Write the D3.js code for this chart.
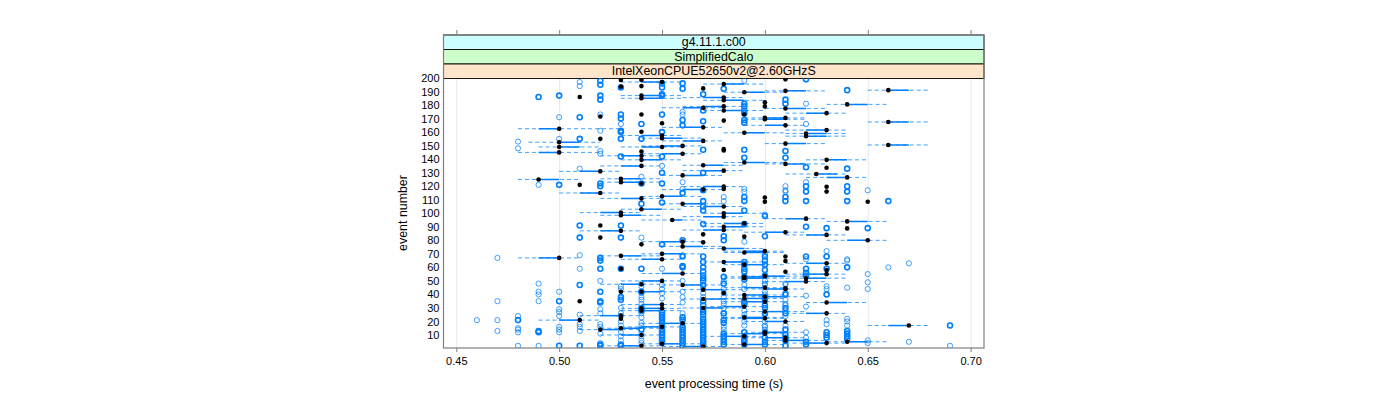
<!DOCTYPE html>
<html><head><meta charset="utf-8">
<script src="https://cdn.jsdelivr.net/npm/d3@7/dist/d3.min.js"></script>
<style>html,body{margin:0;padding:0;background:#fff}svg{display:block;font-family:"Liberation Sans",Arial,sans-serif}</style>
</head><body><svg id="c" width="1400" height="400"></svg>
<script>
const stripLabels=["g4.11.1.c00","SimplifiedCalo","IntelXeonCPUE52650v2@2.60GHzS"];
const stripColors=["#ccffff","#ccffcc","#ffe5cc"];
const xTicks=[0.45,0.50,0.55,0.60,0.65,0.70];
const yTicks=[10,20,30,40,50,60,70,80,90,100,110,120,130,140,150,160,170,180,190,200];
const xTitle="event processing time (s)";
const yTitle="event number";
// [event, median, mean, mean-sd, mean+sd]
const summaryRows=[
[197,.55,.54,.53,.56],[187,.54,.55,.53,.56],[185,.54,.55,.53,.56],[195.5,.58,.59,.57,.60],[189.5,.59,.60,.58,.61],
[185.5,.58,.57,.56,.59],[183.5,.58,.59,.57,.60],[179,.58,.57,.56,.59],[176,.58,.59,.57,.60],[178,.57,.56,.55,.58],
[163.5,.57,.56,.55,.58],[190.5,.61,.62,.60,.63],[191,.66,.67,.65,.68],[180.5,.64,.65,.63,.66],[174,.63,.62,.61,.64],
[177.5,.61,.62,.60,.63],[170.5,.61,.60,.59,.62],[169.5,.60,.61,.59,.62],[165,.61,.60,.59,.62],[161.5,.63,.62,.61,.64],
[159,.62,.63,.61,.64],[157,.62,.63,.61,.64],[159.5,.59,.60,.58,.61],[151.5,.61,.62,.60,.63],[167.5,.66,.67,.65,.68],
[150.5,.66,.67,.65,.68],[162.5,.50,.49,.48,.53],[152.5,.50,.51,.485,.52],[149,.50,.51,.49,.52],[145,.50,.49,.48,.52],
[125,.49,.50,.48,.51],[67,.50,.49,.48,.51],[21,.51,.50,.49,.52],[131,.52,.51,.50,.53],[115,.52,.51,.50,.53],
[149,.55,.54,.53,.56],[149.8,.56,.55,.54,.57],[144,.56,.55,.54,.57],[142.5,.54,.53,.52,.55],[139.5,.54,.55,.53,.56],
[135,.54,.53,.52,.55],[135.5,.57,.58,.56,.59],[131.5,.58,.57,.56,.59],[128,.56,.57,.55,.58],[125.5,.53,.54,.52,.55],
[123,.53,.54,.52,.55],[137.5,.59,.60,.58,.61],[136.5,.61,.62,.60,.63],[139.5,.63,.64,.62,.65],[129,.625,.635,.61,.64],
[126.5,.64,.63,.62,.65],[112.5,.55,.56,.54,.57],[111,.54,.53,.52,.55],[103,.54,.55,.53,.56],[119.7,.58,.57,.56,.59],
[117.5,.57,.56,.55,.58],[107,.56,.57,.55,.58],[105,.58,.57,.56,.59],[100.5,.53,.52,.51,.54],[98.5,.53,.54,.52,.55],
[100,.58,.59,.57,.60],[97.5,.58,.57,.56,.59],[95,.555,.56,.54,.57],[87,.53,.52,.51,.54],[96,.62,.61,.60,.63],
[94,.64,.65,.63,.66],[86,.61,.60,.59,.62],[84,.63,.62,.61,.64],[80,.65,.64,.63,.66],[92.5,.59,.58,.57,.60],
[90,.58,.59,.57,.60],[87.6,.58,.57,.56,.59],[79,.56,.55,.54,.57],[75.5,.56,.57,.55,.58],[74,.58,.59,.57,.60],
[71,.59,.60,.58,.61],[72,.60,.59,.58,.61],[68.5,.53,.54,.52,.55],[70,.55,.56,.54,.57],[66,.55,.54,.53,.56],
[55.5,.56,.55,.54,.57],[64,.58,.59,.57,.60],[62,.59,.60,.58,.61],[53.5,.60,.61,.59,.62],[53,.59,.60,.58,.61],
[63,.63,.62,.61,.64],[55,.63,.62,.61,.64],[52,.62,.63,.61,.64],[49.5,.62,.61,.60,.63],[50,.55,.54,.53,.56],
[47.5,.54,.53,.52,.55],[47,.56,.57,.55,.58],[43.5,.57,.58,.56,.59],[52,.59,.60,.58,.61],[45,.60,.59,.58,.61],
[44,.61,.60,.59,.62],[42,.54,.55,.53,.56],[39.6,.59,.60,.58,.61],[38.3,.60,.61,.59,.62],[37,.59,.60,.58,.61],
[34.6,.60,.59,.58,.61],[36.6,.57,.58,.56,.59],[30,.57,.58,.56,.59],[31,.59,.58,.57,.60],[27.3,.60,.61,.59,.62],
[34,.63,.64,.62,.65],[26,.63,.62,.61,.64],[23,.59,.60,.58,.61],[22.3,.60,.59,.58,.61],[20,.61,.60,.59,.62],
[32.5,.55,.54,.53,.56],[29.7,.55,.54,.53,.56],[28,.54,.55,.53,.56],[24.3,.53,.52,.51,.54],[18.6,.56,.55,.54,.57],
[17,.67,.66,.65,.68],[16,.55,.54,.53,.56],[15,.53,.54,.52,.55],[14,.52,.53,.51,.54],[12,.60,.61,.59,.62],
[11,.60,.59,.58,.61],[10,.54,.53,.52,.55],[9,.59,.58,.57,.60],[8,.61,.60,.59,.62],[6,.61,.62,.60,.63],
[5,.64,.65,.63,.66],[4,.63,.62,.61,.64],[3.5,.55,.56,.54,.57],[3,.59,.60,.58,.61],[2,.54,.53,.52,.55],[1.5,.57,.56,.55,.58],
[157.5,.55,.54,.53,.56],[155.5,.55,.56,.54,.57],[153.5,.57,.56,.55,.58]
];
// black dots with no interval: [event, time]
const loneDots=[
[186,.51],[121,.51],[35,.51],[171.5,.52],[155,.52],[91,.52],[82,.52],
[198.5,.53],[193.6,.53],[59,.53],[42,.53],[22,.53],
[198.5,.54],[194,.54],[173,.54],[160.3,.54],[145.6,.54],[122,.54],[77,.54],[29.7,.54],
[166.5,.55],[192.3,.57],[168.5,.58],[146.4,.58],[118,.58],[84.4,.57],[78.5,.57],[58,.58],
[182,.60],[179,.60],[111.7,.60],[108.5,.60],[82.7,.59],[170.5,.60],
[199,.61],[119.6,.63],[116,.63],[133.7,.63],[108.5,.65],[88.8,.64],[56.8,.61],[147.5,.58],
[68,.61],[64.7,.61],[44.5,.61],[58,.63],[173,.59],[41,.58]
];
const openTimes=[.46,.47,.48,.49,.50,.51,.52,.53,.54,.55,.56,.57,.58,.59,.60,.61,.62,.63,.64,.65,.66,.67,.69];
// events drawn once (pale ring), per time column
const paleEvents=[
[21],[67,35,21,13],[153,148,24,15,14,12,2],[121,48,42,40,35,2],[171,155,42,24,29,27,16,14,12],
[197,194,133,69,59,25,18,16,13],[173,161,146,144,50,29,26,18,16,11,4],[166,46,44,30,26,24,20,17,12,9,6],
[127,82,48,46,41,38,36,33,26,23,19,17,11,9,6,4],[135,77,59,47,44,41,37],[175,173,123,118,69,50,42,38,34,26],[44,41,38],
[112,109,50,44,41,38,35,33,30,26,24,16,14],[198,118,116,79,47,44,28,25,23,20,17],[99,70,65,50,48,47,42,40,35,25,20,17,16,14],[120,117,116,48,47,41,36,33,32,28,24,17],
[181,166,123,66,39,31,12,8],[72,68,21,18,46,44],[66,65,45,22,20,17],[117,55,49,44,6,4],[60],[63,5],[2]
];
// events drawn heavily (overplotted runs), per time column
const boldEvents=[
[],[],[21],[186,13,12],[187,121,35,2],[171,155,91,82,47,2],
[198,195,187,184,122,120,67,65,59,42,35,34,3,2],[193,173,170,161,160,155,142,91,82,59,38,36,3,2],
[166,155,122,107,59,42,30,28,14],[196,193,188,187,173,160,142,130,122,108,77,27,25,23,21,19,17,14,12,10,8,6,4],
[196,192,169,165,115,80,68,61,60,23,21,16,14,12,10,8,6,4,2],
[188,176,168,147,130,117,109,105,102,92,68,64,60,57,54,52,50,47,35,32,29,27,25,22,20,18,16,14,12,10,8,6,4,2],
[192,83,80,53,48,26,21,19,11,9,7,5,3],[181,179,176,174,169,167,147,141,112,109,102,92,64,62,59,57,53,51,35,33,12,9,7,5,3],
[98,83,68,65,62,58,54,38,36,32,30,26,12,8,5,3],[184,181,146,141,112,109,40,30,26,14,10,8,6,2],
[199,134,120,116,109,90,68,59,56,54,5,3],[89,68,59,12,10,8,40],[191,133,120,116,109,60,13,11,9,7],[89],[109],[],[17]
];
const W=1400,H=400,L=443.5,R=984,PT=78.5,PB=348,TOP=35;
const x=d3.scaleLinear().domain([.45,.70]).range([456.3,970.6]);
const y=d3.scaleLinear().domain([10,200]).range([335,78]);
const blue="#0080ff";
const svg=d3.select("#c");
svg.append("clipPath").attr("id","panel").append("rect").attr("x",L).attr("y",PT).attr("width",R-L).attr("height",PB-PT);
// gridlines
svg.append("g").selectAll("line").data(xTicks).join("line")
 .attr("x1",d=>x(d)+.5).attr("x2",d=>x(d)+.5).attr("y1",PT).attr("y2",PB).attr("stroke","#e8e8e8");
// strips
const sh=(PT-TOP)/stripLabels.length;
const strip=svg.append("g").selectAll("g").data(stripLabels).join("g");
strip.append("rect").attr("x",L).attr("width",R-L).attr("y",(d,i)=>TOP+i*sh).attr("height",sh)
 .attr("fill",(d,i)=>stripColors[i]).attr("stroke","#000").attr("stroke-width",.9);
strip.append("text").attr("x",(L+R)/2).attr("y",(d,i)=>TOP+i*sh+11.3).attr("text-anchor","middle")
 .attr("font-size",12.4).attr("fill","#000").text(d=>d);
// dashed intervals
const marks=svg.append("g").attr("clip-path","url(#panel)");
marks.selectAll("line.d").data(summaryRows).join("line").attr("class","d")
 .attr("x1",d=>x(d[3])).attr("x2",d=>x(d[4])).attr("y1",d=>y(d[0])).attr("y2",d=>y(d[0]))
 .attr("stroke",blue).attr("stroke-width",1).attr("stroke-opacity",.75).attr("stroke-dasharray","4 3");
// open rings
const pale=openTimes.flatMap((t,i)=>paleEvents[i].map(e=>[e,t]));
const bold=openTimes.flatMap((t,i)=>boldEvents[i].map(e=>[e,t]));
marks.selectAll("circle.p").data(pale).join("circle").attr("class","p")
 .attr("cx",d=>x(d[1])).attr("cy",d=>y(d[0])).attr("r",2.6).attr("fill","none")
 .attr("stroke",blue).attr("stroke-width",1).attr("stroke-opacity",.75);
marks.selectAll("circle.b").data(bold).join("circle").attr("class","b")
 .attr("cx",d=>x(d[1])).attr("cy",d=>y(d[0])).attr("r",2.5).attr("fill","none")
 .attr("stroke",blue).attr("stroke-width",1.6);
// solid median-mean segments
marks.selectAll("line.s").data(summaryRows).join("line").attr("class","s")
 .attr("x1",d=>x(d[1])).attr("x2",d=>x(d[2])).attr("y1",d=>y(d[0])).attr("y2",d=>y(d[0]))
 .attr("stroke",blue).attr("stroke-width",1.5);
// black dots
marks.selectAll("circle.k").data(summaryRows.map(d=>[d[0],d[1]]).concat(loneDots)).join("circle").attr("class","k")
 .attr("cx",d=>x(d[1])).attr("cy",d=>y(d[0])).attr("r",2.3).attr("fill","#000");
// frame
svg.append("rect").attr("x",L).attr("y",TOP).attr("width",R-L).attr("height",PB-TOP)
 .attr("fill","none").attr("stroke","#7f7f7f").attr("stroke-width",1.2);
// axes
const fmt=d3.format(".2f");
const ax=svg.append("g").attr("transform",`translate(0,${PB})`)
 .call(d3.axisBottom(x).tickValues(xTicks).tickFormat(fmt).tickSize(4).tickPadding(5));
const axT=svg.append("g").attr("transform",`translate(0,${TOP})`)
 .call(d3.axisTop(x).tickValues(xTicks).tickFormat("").tickSize(5));
const ay=svg.append("g").attr("transform",`translate(${L},0)`)
 .call(d3.axisLeft(y).tickValues(yTicks).tickSize(0).tickPadding(4));
[ax,axT,ay].forEach(a=>{a.select(".domain").remove();
 a.selectAll("line").attr("stroke","#7f7f7f");
 a.selectAll("text").attr("font-family","inherit").attr("font-size",11).attr("fill","#000");});
svg.append("text").attr("x",714).attr("y",388).attr("text-anchor","middle").attr("font-size",12.4).text(xTitle);
svg.append("text").attr("transform","translate(407,213) rotate(-90)").attr("text-anchor","middle").attr("font-size",12.4).text(yTitle);
</script></body></html>
